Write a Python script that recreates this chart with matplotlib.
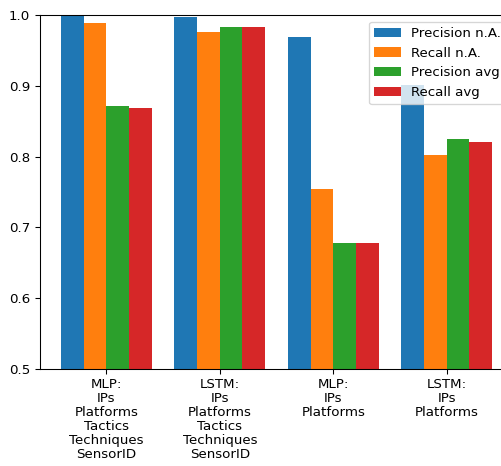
import numpy as np
import matplotlib.pyplot as plt

labels = ['MLP:\nIPs\nPlatforms\nTactics\nTechniques\nSensorID',
          'LSTM:\nIPs\nPlatforms\nTactics\nTechniques\nSensorID',
          'MLP:\nIPs\nPlatforms',
          'LSTM:\nIPs\nPlatforms']

precision_na = [1.0, 0.997, 0.969, 0.901]
recall_na = [0.989, 0.976, 0.754, 0.802]
precision_avg = [0.871, 0.983, 0.678, 0.825]
recall_avg = [0.869, 0.983, 0.678, 0.821]

x = np.arange(len(labels))
w = 0.2

dpi = 96
fig = plt.figure(figsize=(501/dpi, 466/dpi), dpi=dpi)
# axes runs a little past the right edge of the canvas
ax = fig.add_axes([39.5/501, 97/466, 474/501, 354/466])

ax.bar(x - 1.5*w, precision_na, w, label='Precision n.A.')
ax.bar(x - 0.5*w, recall_na, w, label='Recall n.A.')
ax.bar(x + 0.5*w, precision_avg, w, label='Precision avg')
ax.bar(x + 1.5*w, recall_avg, w, label='Recall avg')

ax.set_ylim(0.5, 1.0)
ax.set_yticks([0.5, 0.6, 0.7, 0.8, 0.9, 1.0])
ax.set_xticks(x)
ax.set_xticklabels(labels, linespacing=1.1)
ax.legend(loc='upper right')

fig.savefig('out.png', dpi=dpi)
